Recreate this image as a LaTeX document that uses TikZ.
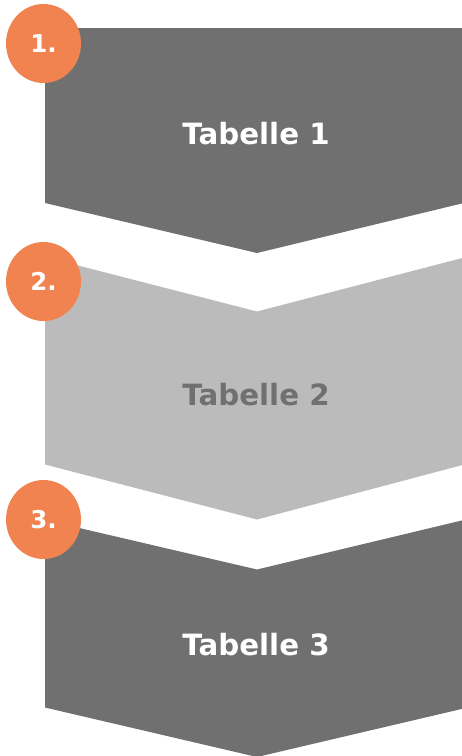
\documentclass[tikz,border=0pt]{standalone}
\usepackage{fontspec}
\setmainfont{DejaVu Sans}
\usetikzlibrary{shapes.geometric}
\definecolor{darkstep}{HTML}{707070}
\definecolor{lightstep}{HTML}{BBBBBB}
\definecolor{badgeorange}{HTML}{F08350}
\tikzset{
  stepfill/.style={fill=#1, draw=none},
  steplabel/.style={font=\bfseries\fontsize{29.3}{32}\selectfont, text=#1, inner sep=0pt},
  badge/.style={ellipse, fill=badgeorange, draw=none, minimum width=75pt, minimum height=79pt,
    inner sep=0pt, text=white, font=\bfseries\fontsize{24.5}{27}\selectfont}
}
\begin{document}
\begin{tikzpicture}[x=1pt,y=-1pt]
\useasboundingbox (0,0) rectangle (462,756);
\clip (0,0) rectangle (462,756);
% chevron bands
\fill[stepfill=darkstep] (45,28) -- (470,28) -- (470,201.5) -- (257,253) -- (45,203) -- cycle;
\fill[stepfill=lightstep] (45,257) -- (257,311.5) -- (470,256) -- (470,463) -- (257,519.5) -- (45,464.5) -- cycle;
\fill[stepfill=darkstep] (45,520) -- (257,569.5) -- (470,518.5) -- (470,707) -- (257,757) -- (45,707.5) -- cycle;
% band titles
\node[steplabel=white] (t1) at (256,134) {Tabelle 1};
\node[steplabel=darkstep] (t2) at (256,395) {Tabelle 2};
\node[steplabel=white] (t3) at (256,645) {Tabelle 3};
% numbered badges
\node[badge] (b1) at (43.5,43.5) {1.};
\node[badge] (b2) at (43.5,281.5) {2.};
\node[badge] (b3) at (43.5,519.5) {3.};
\end{tikzpicture}
\end{document}
